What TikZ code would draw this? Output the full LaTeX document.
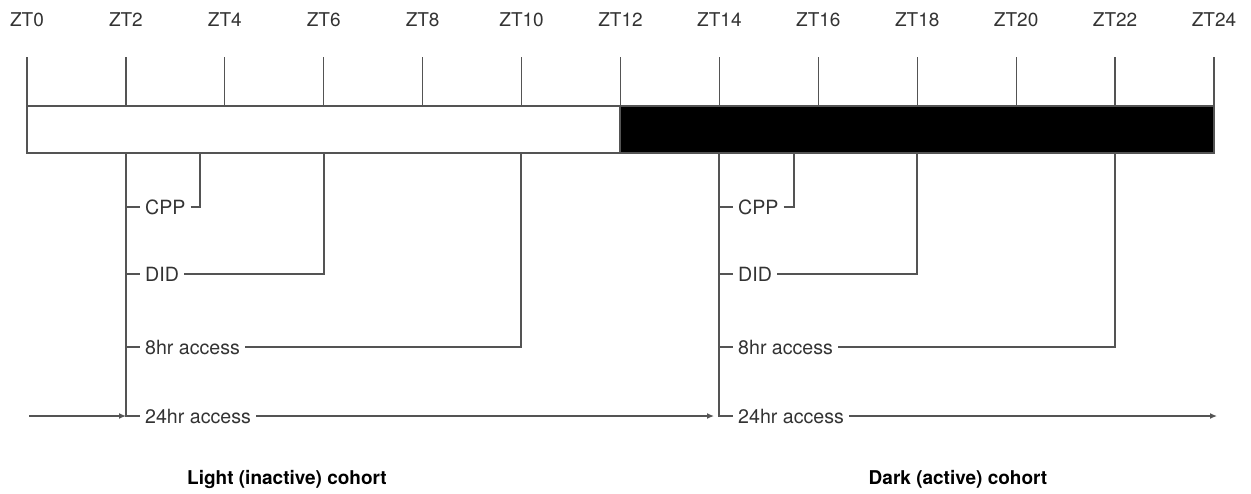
\documentclass[tikz,border=0pt]{standalone}
\usepackage{fontspec}
\setmainfont{TeX Gyre Heros}
\usetikzlibrary{arrows.meta}
\definecolor{linegray}{gray}{0.33}
\tikzset{
  ln/.style={draw=linegray, line width=1.3pt},
  zt/.style={font=\fontsize{19}{22}\selectfont, text=black!80, inner sep=0pt, text height=13.5pt, text depth=0pt},
  lab/.style={font=\fontsize{19.6}{22}\selectfont, text=black!80, inner sep=5pt, anchor=west, text height=14pt, text depth=0pt},
  coh/.style={font=\fontsize{19}{22}\selectfont\bfseries, inner sep=0pt, text height=13.5pt, text depth=0pt},
  arr/.style={ln, -{Latex[length=7pt,width=6pt]}},
}
\begin{document}
\begin{tikzpicture}[x=1pt,y=-1pt]
\useasboundingbox (0,0) rectangle (1251,493);
% bar
\fill[white] (27,106) rectangle (620,153);
\fill[black] (620,106) rectangle (1214,153);
\draw[ln] (27,106) rectangle (1214,153);
\draw[ln] (620,106) -- (620,153);
% ticks and labels
\foreach \i in {0,2,...,24} {
  \coordinate (t\i) at ({27+\i*49.458},57);
  \coordinate (b\i) at ({27+\i*49.458},106);
  \node[zt] (z\i) at ({27+\i*49.458},20) {ZT\i};
  \draw[ln] (t\i) -- (b\i);
}
% ---- light cohort ----
\coordinate (lv) at (126,153);
\node[lab] (lcpp) at (140,207) {CPP};
\node[lab] (ldid) at (140,274) {DID};
\node[lab] (l8) at (140,347) {8hr access};
\node[lab] (l24) at (140,416) {24hr access};
\coordinate (lcppup) at (200,153);
\coordinate (ldidup) at (324,153);
\coordinate (l8up) at (521,153);
\coordinate (lstart) at (29,416);
\coordinate (lend) at (126,416);
\coordinate (lstop) at (714,416);
\draw[ln] (lv) |- (l24.west);
\draw[ln] (126,207) -- (lcpp.west);
\draw[ln] (126,274) -- (ldid.west);
\draw[ln] (126,347) -- (l8.west);
\draw[ln] (lcpp.east) -| (lcppup);
\draw[ln] (ldid.east) -| (ldidup);
\draw[ln] (l8.east) -| (l8up);
\draw[arr] (lstart) -- (lend);
\draw[arr] (l24.east) -- (lstop);
% ---- dark cohort ----
\coordinate (dv) at (719,153);
\node[lab] (dcpp) at (733,207) {CPP};
\node[lab] (ddid) at (733,274) {DID};
\node[lab] (d8) at (733,347) {8hr access};
\node[lab] (d24) at (733,416) {24hr access};
\coordinate (dcppup) at (794,153);
\coordinate (ddidup) at (917,153);
\coordinate (d8up) at (1115,153);
\coordinate (dstop) at (1217,416);
\draw[ln] (dv) |- (d24.west);
\draw[ln] (719,207) -- (dcpp.west);
\draw[ln] (719,274) -- (ddid.west);
\draw[ln] (719,347) -- (d8.west);
\draw[ln] (dcpp.east) -| (dcppup);
\draw[ln] (ddid.east) -| (ddidup);
\draw[ln] (d8.east) -| (d8up);
\draw[arr] (d24.east) -- (dstop);
% cohort labels
\node[coh] (lc) at (287,478) {Light (inactive) cohort};
\node[coh] (dc) at (958,478) {Dark (active) cohort};
\end{tikzpicture}
\end{document}
